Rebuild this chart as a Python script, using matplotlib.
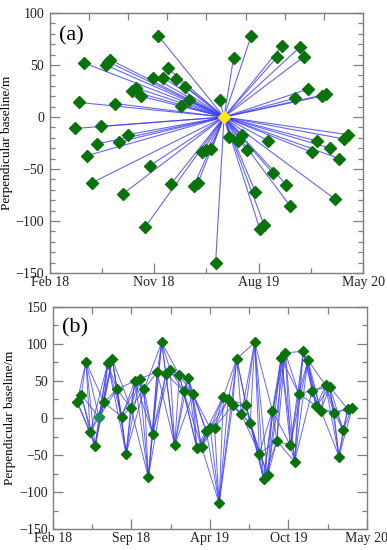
import numpy as np
import matplotlib
matplotlib.use('Agg')
import matplotlib.pyplot as plt
from matplotlib.ticker import MultipleLocator, FixedLocator

plt.rcParams['font.family'] = ['Liberation Serif', 'DejaVu Serif']

# days since 1 Feb 2018, perpendicular baseline (m)
# (a) single master network
a_days = [65, 77, 89, 98, 111, 122, 134, 146, 152, 158, 170, 180, 191, 204, 215, 226,
          238, 249, 261, 271, 284, 296, 308, 318, 330, 342, 354, 365, 377, 388, 398, 410,
          423, 434, 445, 470, 481, 492, 504, 515, 527, 538, 550, 561, 572, 584, 596, 607,
          619, 630, 642, 654, 665, 677, 687, 699, 712, 724, 734, 747, 758, 769, 782]
a_bperp = [-11, 14, 52, -37, -63, -26, -9, 50, 53, 55, 13, -24, -74, -17, 25, 28,
           20, -106, -47, 38, 78, 38, 47, -64, 37, 11, 29, 16, -66, -63, -34, -32,
           -31, -140, 16, -19, 57, -23, -17, -32, 78, -72, -108, -104, -23, -54, 58, 68,
           -65, -86, 18, 67, 58, 27, -34, -23, 20, 22, -30, -79, -40, -21, -17]
master_day = 456
master_bperp = 0

# (b) small baseline network
b_days = [63, 74, 86, 97, 110, 120, 133, 143, 155, 167, 179, 191, 203, 214, 226, 238,
          249, 260, 272, 284, 295, 306, 318, 330, 341, 353, 365, 376, 388, 400, 411, 422,
          434, 445, 458, 469, 480, 492, 504, 515, 527, 539, 550, 561, 573, 585, 596, 607,
          620, 631, 642, 654, 666, 677, 688, 700, 712, 723, 734, 747, 758, 770, 782]
b_bperp = [22, 31, 76, -19, -38, 1, 21, 74, 79, 39, 2, -48, 14, 50, 53, 39,
           -80, -21, 62, 102, 60, 65, -37, 58, 36, 54, 32, -41, -39, -17, -14, -13,
           -115, 29, 26, 17, 80, 5, 17, -7, 102, -48, -82, -77, 10, -31, 81, 88,
           -37, -59, 33, 90, 78, 37, 16, 10, 44, 42, 7, -52, -16, 12, 14]
b_special = 5  # point drawn in a lighter green

a_ticks = [0, 273, 547, 820]
a_labels = ['Feb 18', 'Nov 18', 'Aug 19', 'May 20']
b_ticks = [0, 205, 410, 615, 820]
b_labels = ['Feb 18', 'Sep 18', 'Apr 19', 'Oct 19', 'May 20']

line_c = '#4040f8'
mark_c = '#0a720a'
frame_c = '#7f7f7f'

fig = plt.figure(figsize=(3.87, 5.5), dpi=100)
ax1 = fig.add_axes([0.129, 0.5036, 0.809, 0.4727])
ax2 = fig.add_axes([0.137, 0.038, 0.811, 0.404])


def style(ax, ticks, labels, top_ticks, ymin, ymax, yminor):
    ax.set_xlim(0, 820)
    ax.set_ylim(ymin, ymax)
    ax.set_xticks(ticks)
    ax.set_xticklabels(labels)
    mids = [(ticks[i] + ticks[i + 1]) / 2 for i in range(len(ticks) - 1)]
    ax.xaxis.set_minor_locator(FixedLocator(mids))
    ax.yaxis.set_major_locator(MultipleLocator(50))
    ax.yaxis.set_minor_locator(MultipleLocator(yminor))
    ax.tick_params(axis='both', which='both', direction='in', color=frame_c,
                   labelsize=10, labelcolor='#222222', top=False, right=True)
    ax.tick_params(axis='both', which='major', length=7, width=0.9)
    ax.tick_params(axis='both', which='minor', length=3.5, width=0.9)
    ax.tick_params(axis='y', which='major', pad=4)
    ax.tick_params(axis='x', which='major', pad=2)
    for s in ax.spines.values():
        s.set_color(frame_c)
        s.set_linewidth(1.0)
    sec = ax.secondary_xaxis('top')
    sec.set_xticks(top_ticks)
    sec.set_xticklabels([])
    sec.tick_params(direction='in', length=5, width=0.9, color=frame_c)
    sec.spines['top'].set_color(frame_c)
    ax.set_ylabel('Perpendicular baseline/m', fontsize=9.5, labelpad=2)


# panel (a)
for d, b in zip(a_days, a_bperp):
    ax1.plot([master_day, d], [master_bperp, b], color=line_c, lw=0.8, alpha=0.8, zorder=1)
ax1.plot(a_days, a_bperp, 'D', color=mark_c, ms=6.5, mec=mark_c, zorder=3, ls='none')
ax1.plot([master_day], [master_bperp], 'D', color='#ffee00', mec='#ffee00', ms=6.5, zorder=4)
style(ax1, a_ticks, a_labels, [820 * i / 8 for i in range(1, 8)], -150, 100, 10)
ax1.text(0.03, 0.95, '(a)', transform=ax1.transAxes, fontsize=16, va='top', ha='left')

# panel (b)
n = len(b_days)
for i in range(n):
    for j in range(i + 1, min(i + 5, n)):
        ax2.plot([b_days[i], b_days[j]], [b_bperp[i], b_bperp[j]], color=line_c,
                 lw=0.7, alpha=0.8, zorder=1)
ax2.plot(b_days, b_bperp, 'D', color=mark_c, ms=5, mec=mark_c, zorder=3, ls='none')
ax2.plot([b_days[b_special]], [b_bperp[b_special]], 'D', color='#1e8c5c', mec='#1e8c5c',
         ms=5, zorder=4)
b_mids = [(b_ticks[i] + b_ticks[i + 1]) / 2 for i in range(len(b_ticks) - 1)]
style(ax2, b_ticks, b_labels, sorted(b_ticks[1:-1] + b_mids), -150, 150, 25)
ax2.text(0.03, 0.95, '(b)', transform=ax2.transAxes, fontsize=16, va='top', ha='left')

fig.savefig('out.png', dpi=100)
